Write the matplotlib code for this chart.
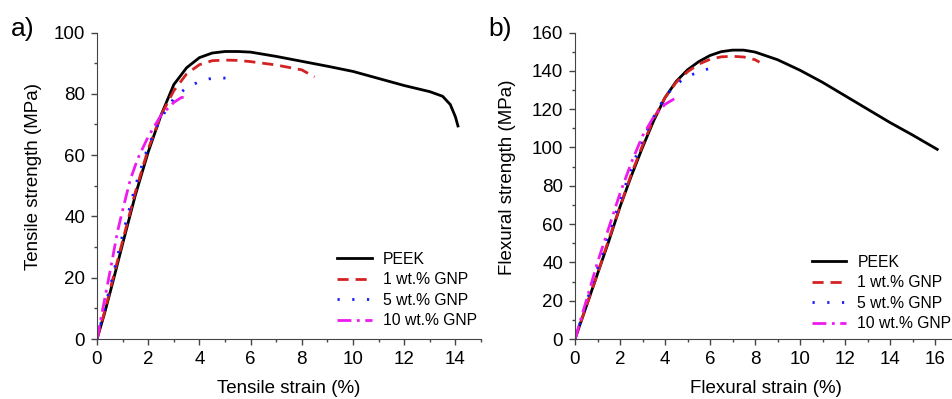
import numpy as np
import matplotlib.pyplot as plt
from matplotlib.ticker import MultipleLocator

plt.rcParams['font.family'] = ['Liberation Sans', 'DejaVu Sans']

#=============================
# Tensile data (a)
#=============================
ten_peek_x = [0, 0.3, 0.6, 1.0, 1.5, 2.0, 2.5, 3.0, 3.5, 4.0, 4.5, 5.0, 5.5, 6.0, 7.0, 8.0, 9.0, 10.0, 11.0, 12.0, 13.0, 13.5, 13.8, 14.0, 14.1]
ten_peek_y = [0, 8.5, 18, 31, 47, 61, 73, 83, 88.5, 91.8, 93.3, 93.8, 93.8, 93.6, 92.2, 90.6, 89.0, 87.3, 85.0, 82.7, 80.7, 79.2, 76.5, 72.5, 69.5]
ten_1_x = [0, 0.3, 0.6, 1.0, 1.5, 2.0, 2.5, 3.0, 3.5, 4.0, 4.5, 5.0, 5.5, 6.0, 7.0, 8.0, 8.5]
ten_1_y = [0, 9, 19, 32, 48, 62, 73, 81, 86.5, 89.5, 90.8, 91.0, 90.9, 90.5, 89.4, 87.8, 85.5]
ten_5_x = [0, 0.3, 0.6, 1.0, 1.5, 2.0, 2.5, 3.0, 3.5, 4.0, 4.4, 4.8, 5.3]
ten_5_y = [0, 10, 20, 34, 50, 63, 72, 78.5, 82, 84, 84.9, 85.3, 84.8]
ten_10_x = [0, 0.3, 0.6, 0.8, 1.0, 1.3, 1.6, 2.0, 2.5, 2.8, 3.0, 3.3, 3.6]
ten_10_y = [0, 13, 26, 35, 42, 52, 59, 66, 73, 75.5, 77.2, 78.8, 79]

#=============================
# Flexural data (b)
#=============================
flx_peek_x = [0, 0.5, 1.0, 1.5, 2.0, 2.5, 3.0, 3.5, 4.0, 4.5, 5.0, 5.5, 6.0, 6.5, 7.0, 7.5, 8.0, 9.0, 10.0, 11.0, 12.0, 13.0, 14.0, 15.0, 16.1]
flx_peek_y = [0, 17, 34, 51, 69, 85, 100, 114, 126, 134.5, 140.5, 144.8, 148, 150, 150.8, 150.8, 149.8, 145.8, 140.3, 134, 127, 120, 113, 106.5, 99]
flx_1_x = [0, 0.5, 1.0, 1.5, 2.0, 2.5, 3.0, 3.5, 4.0, 4.5, 5.0, 5.5, 6.0, 6.5, 7.0, 7.5, 8.0, 8.2]
flx_1_y = [0, 17, 34, 52, 69, 86, 101, 115, 126, 134, 139.5, 143.5, 146, 147.3, 147.6, 147.2, 145.8, 144.5]
flx_5_x = [0, 0.5, 1.0, 1.5, 2.0, 2.5, 3.0, 3.5, 4.0, 4.5, 5.0, 5.5, 6.2]
flx_5_y = [0, 19, 37, 55, 72, 89, 104, 116, 126.5, 133, 137, 139.5, 142]
flx_10_x = [0, 0.5, 1.0, 1.5, 2.0, 2.5, 3.0, 3.5, 4.0, 4.5]
flx_10_y = [0, 20, 40, 58, 76, 92, 106, 116, 122.5, 126]

labels = ['PEEK', '1 wt.% GNP', '5 wt.% GNP', '10 wt.% GNP']
colors = ['black', '#d42222', '#1a1aff', '#ee1aee']
styles = ['-', (0, (4, 2.5)), (0, (0.8, 4.5)), (0, (5, 2, 1, 2))]

fig = plt.figure(figsize=(9.52, 3.99), dpi=100)
ax1 = fig.add_axes([97/952, 1-339/399, 384/952, 306.5/399])
ax2 = fig.add_axes([575/952, 1-339/399, 382.5/952, 306.5/399])

series_a = [(ten_peek_x, ten_peek_y), (ten_1_x, ten_1_y), (ten_5_x, ten_5_y), (ten_10_x, ten_10_y)]
series_b = [(flx_peek_x, flx_peek_y), (flx_1_x, flx_1_y), (flx_5_x, flx_5_y), (flx_10_x, flx_10_y)]

for ax, series, anchor in [(ax1, series_a, (1.018, 0.0)), (ax2, series_b, (1.013, -0.01))]:
    for (x, y), lab, c, ls in zip(series, labels, colors, styles):
        ax.plot(x, y, color=c, ls=ls, lw=2, label=lab)
    ax.spines['top'].set_visible(False)
    ax.spines['right'].set_visible(False)
    ax.spines['left'].set_color('#444444')
    ax.spines['bottom'].set_color('#444444')
    ax.tick_params(which='major', direction='out', length=4, width=1, labelsize=13.5, color='#444444', pad=4.5)
    ax.tick_params(which='minor', direction='out', length=2.5, width=1, color='#444444')
    ax.xaxis.set_minor_locator(MultipleLocator(1))
    ax.yaxis.set_minor_locator(MultipleLocator(10))
    ax.xaxis.set_major_locator(MultipleLocator(2))
    ax.yaxis.set_major_locator(MultipleLocator(20))
    ax.legend(loc='lower right', bbox_to_anchor=anchor, frameon=False, fontsize=11.3,
              handlelength=2.2, handletextpad=0.7, labelspacing=0.35, borderaxespad=0.3)

ax1.set_xlim(0, 15)
ax1.set_ylim(0, 100)
ax1.set_xlabel('Tensile strain (%)', fontsize=13.5)
ax1.set_ylabel('Tensile strength (MPa)', fontsize=13.5)
ax1.xaxis.set_label_coords(0.5, -0.134)
ax1.yaxis.set_label_coords(-0.143, 0.529)

ax2.set_xlim(0, 17)
ax2.set_ylim(0, 160)
ax2.set_xlabel('Flexural strain (%)', fontsize=13.5)
ax2.set_ylabel('Flexural strength (MPa)', fontsize=13.5)
ax2.xaxis.set_label_coords(0.5 * 17 / 17, -0.134)
ax2.yaxis.set_label_coords(-0.154, 0.529)

fig.text(11/952, 1-29/399, 'a)', fontsize=19, va='center', ha='left')
fig.text(488/952, 1-29/399, 'b)', fontsize=19, va='center', ha='left')

fig.savefig('out.png', dpi=100)
